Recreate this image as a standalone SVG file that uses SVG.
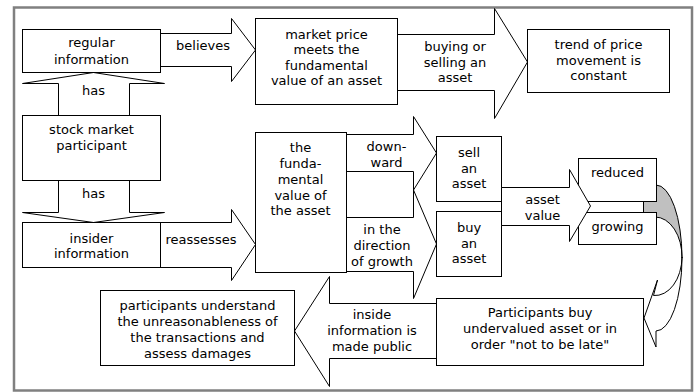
<svg xmlns="http://www.w3.org/2000/svg" width="697" height="392" viewBox="0 0 697 392">
<style>
.b{fill:#fff;stroke:#000;stroke-width:1}
.a{fill:#fff;stroke:#000;stroke-width:1}
.g{fill:#c0c0c0;stroke:#000;stroke-width:1}
text{font-family:"DejaVu Sans",Verdana,sans-serif;font-size:13px;fill:#000;text-anchor:middle}
</style>
<rect x="0" y="0" width="697" height="392" fill="#fff"/>
<rect x="14" y="7.5" width="678" height="383" fill="#fff" stroke="#808080" stroke-width="2.5"/>
<g id="connectors">
<polygon class="a" points="160.5,33.5 231.5,33.5 231.5,18.5 255.5,50 231.5,81.5 231.5,66.5 160.5,66.5"/>
<text x="203" y="50">believes</text>
<polygon class="a" points="397.5,34.5 494.5,34.5 494.5,8.5 527.5,62 494.5,118.5 494.5,90.5 397.5,90.5"/>
<text x="455" y="50.5">buying or</text>
<text x="455" y="66.5">selling an</text>
<text x="455" y="82">asset</text>
<polygon class="a" points="58.5,115.5 58.5,83.5 22.5,83.5 93.5,72.5 164.5,83.5 129.5,83.5 129.5,115.5"/>
<text x="93.5" y="94.5">has</text>
<polygon class="a" points="58.5,180.5 58.5,212.5 22.5,212.5 93.5,222.5 164.5,212.5 129.5,212.5 129.5,180.5"/>
<text x="93.5" y="198">has</text>
<polygon class="a" points="160.5,222.5 231.5,222.5 231.5,209.5 255.5,244.5 231.5,280.5 231.5,267.5 160.5,267.5"/>
<text x="201" y="243.5">reassesses</text>
<polygon class="a" points="346.5,134.5 413.5,134.5 413.5,116.5 436.5,153 413.5,190 413.5,171.5 346.5,171.5"/>
<text x="386.5" y="150.5">down-</text>
<text x="386.5" y="166.5">ward</text>
<polygon class="a" points="346.5,217.5 413.5,217.5 413.5,190 436.5,244 413.5,298.5 413.5,271.5 346.5,271.5"/>
<text x="382" y="234">in the</text>
<text x="382" y="250">direction</text>
<text x="382" y="265.5">of growth</text>
<polygon class="a" points="436.5,303.5 329.5,303.5 329.5,276.5 294.5,331 329.5,386.5 329.5,358.5 436.5,358.5"/>
<text x="372" y="319">inside</text>
<text x="372" y="335">information is</text>
<text x="372" y="350.5">made public</text>
<path class="g" d="M643.5,186 L656,185 A26 73 0 0 1 682,258 A27 40 0 0 0 655,217 L643.5,217 Z"/>
<path class="a" d="M682,258 A26 73 0 0 1 656,331 L656,347 L644,318 L657.5,280 L653.5,295.5 A27 39 0 0 0 682,257 Z"/>
</g>
<g id="regular-information">
<rect class="b" x="22.5" y="29.5" width="138" height="43"/>
<text x="91.5" y="46.5">regular</text>
<text x="91.5" y="64">information</text>
</g>
<g id="stock-market-participant">
<rect class="b" x="22.5" y="115.5" width="138" height="65"/>
<text x="91.5" y="134">stock market</text>
<text x="91.5" y="150">participant</text>
</g>
<g id="insider-information">
<rect class="b" x="22.5" y="222.5" width="138" height="45"/>
<text x="91.5" y="242.5">insider</text>
<text x="91.5" y="258">information</text>
</g>
<g id="market-price">
<rect class="b" x="255.5" y="18.5" width="142" height="86"/>
<text x="326.5" y="38.5">market price</text>
<text x="326.5" y="54">meets the</text>
<text x="326.5" y="69.5">fundamental</text>
<text x="326.5" y="85">value of an asset</text>
</g>
<g id="trend">
<rect class="b" x="527.5" y="29.5" width="142" height="63"/>
<text x="598.5" y="48.5">trend of price</text>
<text x="598.5" y="64.5">movement is</text>
<text x="598.5" y="80">constant</text>
</g>
<g id="fundamental-value">
<rect class="b" x="255.5" y="132.5" width="91" height="140"/>
<text x="300.5" y="152">the</text>
<text x="300.5" y="168">funda-</text>
<text x="300.5" y="184">mental</text>
<text x="300.5" y="199.5">value of</text>
<text x="300.5" y="215">the asset</text>
</g>
<g id="sell-asset">
<rect class="b" x="436.5" y="136.5" width="65" height="65"/>
<text x="469" y="157">sell</text>
<text x="469" y="172.5">an</text>
<text x="469" y="187.5">asset</text>
</g>
<g id="buy-asset">
<rect class="b" x="436.5" y="211.5" width="65" height="65"/>
<text x="469" y="232">buy</text>
<text x="469" y="247.5">an</text>
<text x="469" y="262.5">asset</text>
</g>
<g id="reduced">
<rect class="b" x="578.5" y="158.5" width="78" height="43"/>
<text x="617.5" y="177">reduced</text>
</g>
<g id="growing">
<rect class="b" x="578.5" y="212.5" width="78" height="32"/>
<text x="617.5" y="231">growing</text>
</g>
<g id="asset-value-arrow">
<polygon class="a" points="501.5,187.5 569.5,187.5 569.5,169.5 590.5,206 569.5,241.5 569.5,225.5 501.5,225.5"/>
<text x="542.5" y="204">asset</text>
<text x="542.5" y="219.5">value</text>
</g>
<g id="participants-understand">
<rect class="b" x="100.5" y="290.5" width="194" height="75"/>
<text x="197.5" y="310">participants understand</text>
<text x="197.5" y="326">the unreasonableness of</text>
<text x="197.5" y="342">the transactions and</text>
<text x="197.5" y="358">assess damages</text>
</g>
<g id="participants-buy">
<rect class="b" x="436.5" y="298.5" width="207" height="67"/>
<text x="540" y="317">Participants buy</text>
<text x="540" y="333">undervalued asset or in</text>
<text x="540" y="348.5">order "not to be late"</text>
</g>
</svg>
